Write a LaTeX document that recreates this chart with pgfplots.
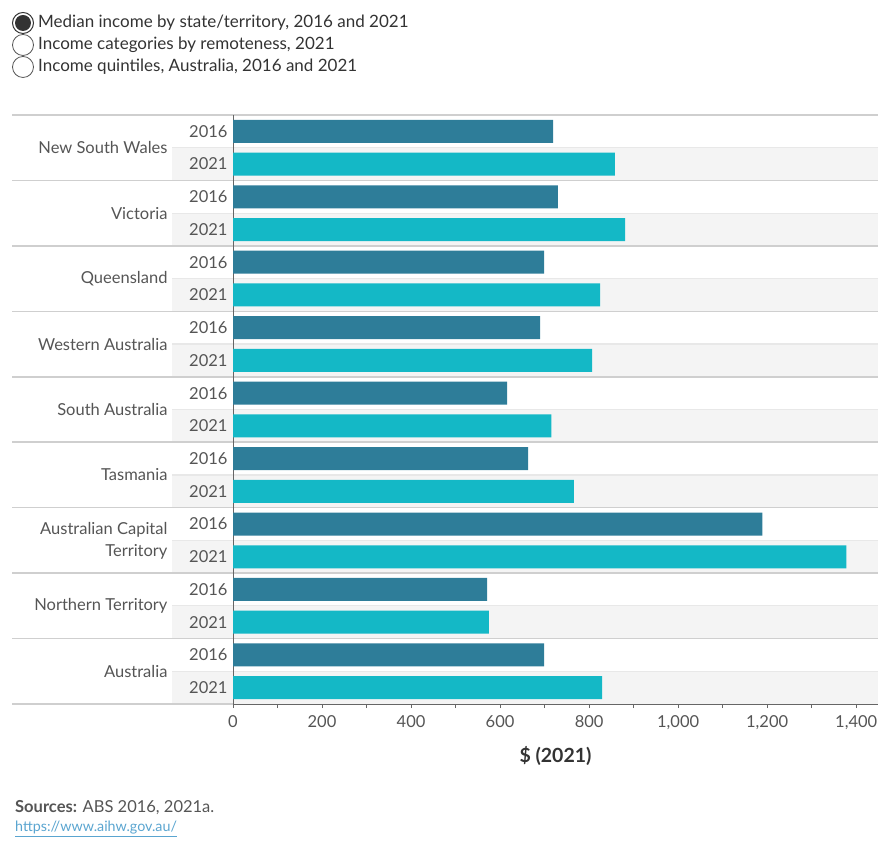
\documentclass[border=0pt]{standalone}
\usepackage{pgfplots}
\pgfplotsset{compat=1.18}
\usepackage{pgfplotstable}
\usepackage{fontspec}
\setmainfont{Lato}

\definecolor{bar16}{HTML}{2E7D99}
\definecolor{bar21}{HTML}{14B8C6}
\definecolor{band}{HTML}{F4F4F4}
\definecolor{groupsep}{HTML}{CFCFCF}
\definecolor{rowsep}{HTML}{E8E8E8}
\definecolor{txt}{HTML}{555555}
\definecolor{dark}{HTML}{333333}
\definecolor{axisline}{HTML}{666666}
\definecolor{link}{HTML}{5AA5D0}

% Median weekly income, $ (2021); row = position of the bar (0 = top)
\pgfplotstableread{
row value
0.5  719
2.5  730
4.5  699
6.5  690
8.5  616
10.5 663
12.5 1189
14.5 571
16.5 699
}\yearA
\pgfplotstableread{
row value
1.5  858
3.5  881
5.5  825
7.5  807
9.5  715
11.5 766
13.5 1378
15.5 575
17.5 829
}\yearB

\newcommand{\sz}[1]{\fontsize{#1}{22}\selectfont}

\begin{document}
\begin{tikzpicture}[x=1pt,y=1pt]
\useasboundingbox (0,0) rectangle (890,850);

% selector
\draw[dark, line width=1pt] (23,{850-23}) circle (10.5);
\fill[dark] (23,{850-23}) circle (8);
\draw[txt, line width=0.8pt] (23,{850-45}) circle (10.5);
\draw[txt, line width=0.8pt] (23,{850-67}) circle (10.5);
\node[anchor=west, inner sep=0, text=dark] at (38,{850-23}) {\sz{17}Median income by state/territory, 2016 and 2021};
\node[anchor=west, inner sep=0, text=dark] at (38,{850-45}) {\sz{17}Income categories by remoteness, 2021};
\node[anchor=west, inner sep=0, text=dark] at (38,{850-67}) {\sz{17}Income quintiles, Australia, 2016 and 2021};

% row bands and separators
\pgfmathsetmacro{\rh}{589/18}
\foreach \i in {1,3,...,17}{
  \fill[band] (172,{850-115-\i*\rh}) rectangle (878,{850-115-(\i+1)*\rh});
  \draw[rowsep, line width=1.2pt] (172,{850-115-\i*\rh}) -- (878,{850-115-\i*\rh});
}
\foreach \g in {0,...,8}{
  \draw[groupsep, line width=1.5pt] (12,{850-115-2*\g*\rh}) -- (878,{850-115-2*\g*\rh});
}
\draw[groupsep, line width=1.5pt] (12,146) -- (233,146);

\begin{axis}[
  at={(233pt,146pt)}, anchor=south west,
  scale only axis, width=645pt, height=589pt,
  xmin=0, xmax=1449, ymin=0, ymax=18, y dir=reverse,
  axis x line*=bottom, axis y line*=left,
  axis line style={axisline, line width=1pt},
  xtick={0,200,...,1400}, minor xtick={100,300,...,1300},
  xtick align=outside,
  major tick length=4pt, minor tick length=4pt,
  tick style={axisline, line width=0.8pt},
  ytick={0.5,1.5,...,17.5},
  yticklabels={2016,2021,2016,2021,2016,2021,2016,2021,2016,2021,2016,2021,2016,2021,2016,2021,2016,2021},
  ytick style={draw=none},
  yticklabel style={xshift=-2pt},
  extra y ticks={1,3,...,17},
  extra y tick labels={New South Wales,Victoria,Queensland,Western Australia,South Australia,Tasmania,{Australian Capital\\Territory},Northern Territory,Australia},
  extra y tick style={ytick style={draw=none}, yticklabel style={xshift=-60pt, align=right}},
  ticklabel style={font=\sz{16.5}, text=txt},
  xticklabel style={yshift=-4pt},
  /pgf/number format/.cd, 1000 sep={,}, assume math mode=true, /pgfplots/.cd,
  xlabel={\$ (2021)},
  xlabel style={font=\sz{19.5}\bfseries, text=dark, yshift=-10pt},
  clip=false,
]
\addplot[xbar, bar width=23pt, bar shift=0pt, fill=bar16, draw=none] table[x=value, y=row] {\yearA};
\addplot[xbar, bar width=23pt, bar shift=0pt, fill=bar21, draw=none] table[x=value, y=row] {\yearB};
\end{axis}

% sources
\node[anchor=west, inner sep=0, text=txt] at (15,{850-808}) {\sz{16.5}\textbf{Sources:} ABS 2016, 2021a.};
\node[anchor=west, inner sep=0, text=link] at (15,{850-829}) {\sz{14.3}\underline{https://www.aihw.gov.au/}};
\end{tikzpicture}
\end{document}
